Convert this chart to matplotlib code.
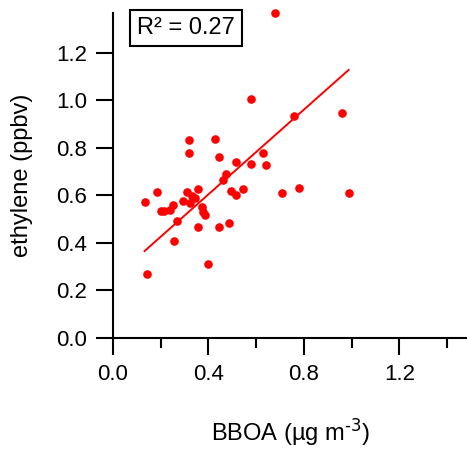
import numpy as np
import matplotlib
matplotlib.use("Agg")
import matplotlib.pyplot as plt
from matplotlib.ticker import MultipleLocator

plt.rcParams['font.family'] = ['Liberation Sans', 'DejaVu Sans']
plt.rcParams['mathtext.default'] = 'regular'

# BBOA (ug m-3) vs ethylene (ppbv)
bboa = [0.68, 0.58, 0.96, 0.76, 0.32, 0.427, 0.32, 0.445, 0.63, 0.517,
        0.577, 0.64, 0.472, 0.459, 0.183, 0.132, 0.31, 0.355, 0.295, 0.322,
        0.33, 0.345, 0.201, 0.213, 0.239, 0.252, 0.269, 0.254, 0.355, 0.371,
        0.378, 0.384, 0.399, 0.141, 0.442, 0.485, 0.493, 0.516, 0.544, 0.707,
        0.779, 0.987]
ethylene = [1.37, 1.005, 0.949, 0.936, 0.832, 0.837, 0.777, 0.763, 0.777, 0.741,
            0.731, 0.727, 0.692, 0.665, 0.613, 0.573, 0.613, 0.627, 0.576, 0.568,
            0.598, 0.588, 0.535, 0.536, 0.537, 0.558, 0.491, 0.408, 0.469, 0.55,
            0.532, 0.518, 0.31, 0.268, 0.468, 0.482, 0.619, 0.6, 0.627, 0.609,
            0.633, 0.609]

# fit line as drawn in the original
slope = 0.892
intercept = 0.248
r2_text = "R² = 0.27"

fig = plt.figure(figsize=(4.67, 4.5), dpi=100)
ax = fig.add_axes([0.242, 0.249, 0.758, 0.722])

ax.plot(bboa, ethylene, 'o', color='red', markersize=6.2, markeredgewidth=0, clip_on=False)
fit_x = np.array([min(bboa), max(bboa)])
ax.plot(fit_x, slope * fit_x + intercept, color='red', linewidth=1.4)

ax.set_xlim(0, 1.483)
ax.set_ylim(0, 1.368)
ax.xaxis.set_major_locator(MultipleLocator(0.4))
ax.xaxis.set_minor_locator(MultipleLocator(0.2))
ax.yaxis.set_major_locator(MultipleLocator(0.2))
ax.xaxis.set_major_formatter(lambda v, p: "%.1f" % v)
ax.yaxis.set_major_formatter(lambda v, p: "%.1f" % v)

for s in ['top', 'right']:
    ax.spines[s].set_visible(False)
for s in ['left', 'bottom']:
    ax.spines[s].set_linewidth(1.5)

ax.tick_params(which='major', direction='out', length=12.5, width=1.5, labelsize=16, pad=6)
ax.tick_params(which='minor', direction='out', length=7, width=1.5)

ax.set_xlabel(r"BBOA (µg m$^{\text{-3}}$)", fontsize=17)
ax.set_ylabel("ethylene (ppbv)", fontsize=17)
ax.xaxis.set_label_coords(0.5, -0.243)
ax.yaxis.set_label_coords(-0.226, 0.5)

ax.text(0.206, 0.954, r2_text, transform=ax.transAxes, fontsize=17,
        ha='center', va='center', clip_on=False,
        bbox=dict(boxstyle='square,pad=0.3', facecolor='white',
                  edgecolor='black', linewidth=1.5))

fig.savefig("out.png", dpi=100)
